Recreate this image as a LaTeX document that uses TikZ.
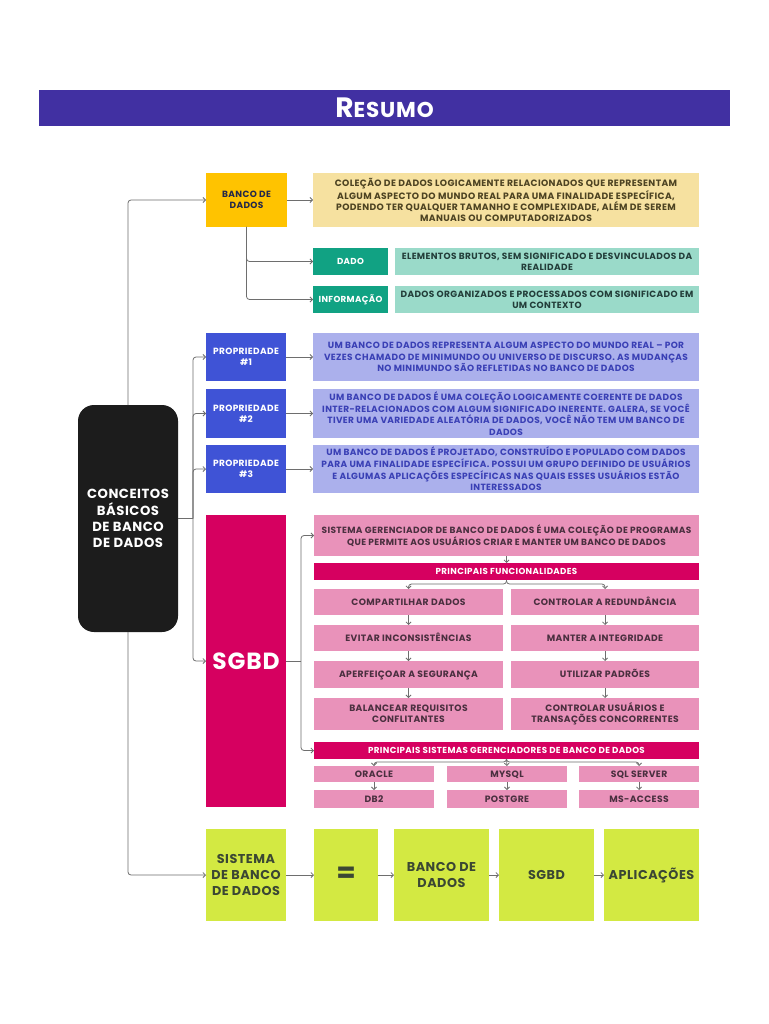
\documentclass[tikz,border=0pt]{standalone}
\usepackage{fontspec}
\setmainfont{Poppins}[LetterSpace=4]
\usetikzlibrary{arrows.meta}
\definecolor{cTitle}{HTML}{4130A2}
\definecolor{cYel}{HTML}{FFC300}
\definecolor{cYelL}{HTML}{F6E1A0}
\definecolor{cTeal}{HTML}{11A283}
\definecolor{cTealL}{HTML}{9ADAC9}
\definecolor{cBlue}{HTML}{3F53D6}
\definecolor{cLav}{HTML}{ABB0EC}
\definecolor{cBlack}{HTML}{1C1C1C}
\definecolor{cMag}{HTML}{D60060}
\definecolor{cPink}{HTML}{E992BA}
\definecolor{cLime}{HTML}{D3E942}
\definecolor{tNavy}{HTML}{24284A}
\definecolor{tYel}{HTML}{4D4322}
\definecolor{tTeal}{HTML}{233E3A}
\definecolor{tLav}{HTML}{3A40B5}
\definecolor{tPink}{HTML}{4A2F3F}
\definecolor{tLime}{HTML}{3B4733}
\definecolor{cLine}{HTML}{6E6E6E}
\begin{document}
\begin{tikzpicture}[x=1pt,y=-1pt,
  every node/.style={inner sep=0pt,outer sep=0pt,align=center,font=\bfseries},
  fdesc/.style={font=\fontsize{9.2}{11}\selectfont\bfseries},
  fteal/.style={font=\fontsize{9}{11}\selectfont\bfseries},
  flav/.style={font=\fontsize{9}{11.7}\selectfont\bfseries},
  fsmall/.style={font=\fontsize{9}{11}\selectfont\bfseries},
  fbar/.style={font=\fontsize{8.7}{10}\selectfont\bfseries},
  one/.style={text height=6.3pt,text depth=0pt},
  yelbox/.style={fill=cYel,text=tNavy,fsmall},
  yeld/.style={fill=cYelL,text=tYel,fdesc},
  tealbox/.style={fill=cTeal,text=white,fbar,one},
  teald/.style={fill=cTealL,text=tTeal,fteal},
  bluebox/.style={fill=cBlue,text=white,fsmall},
  lavd/.style={fill=cLav,text=tLav,flav},
  magbar/.style={fill=cMag,text=white,fbar,one},
  pinkbox/.style={fill=cPink,text=tPink,fdesc},
  limebox/.style={fill=cLime,text=tLime,font=\fontsize{12.8}{16}\selectfont\bfseries},
  arr/.style={draw=cLine,line width=0.8pt,rounded corners=3pt,-{Straight Barb[length=2.5pt,width=5pt]}},
  ln/.style={draw=cLine,line width=0.8pt,rounded corners=3pt}]
\useasboundingbox[fill=white] (0,0) rectangle (768,1024);
% title
\node[fill=cTitle,text=white,minimum width=691,minimum height=36] (title) at (384.5,108)
  {{\fontsize{28}{28}\selectfont R}{\fontsize{21.5}{21.5}\selectfont ESUMO}};
% banco de dados
\node[yelbox,minimum width=81,minimum height=54] (ban) at (246.5,200) {BANCO DE\\DADOS};
\node[yeld,minimum width=386,minimum height=54] (band) at (506,200)
  {COLEÇÃO DE DADOS LOGICAMENTE RELACIONADOS QUE REPRESENTAM\\ALGUM ASPECTO DO MUNDO REAL PARA UMA FINALIDADE ESPECÍFICA,\\PODENDO TER QUALQUER TAMANHO E COMPLEXIDADE, ALÉM DE SEREM\\MANUAIS OU COMPUTADORIZADOS};
\node[tealbox,minimum width=75,minimum height=27] (dado) at (350.5,261.5) {DADO};
\node[teald,minimum width=304,minimum height=27] (dadod) at (547,261.5)
  {ELEMENTOS BRUTOS, SEM SIGNIFICADO E DESVINCULADOS DA\\REALIDADE};
\node[tealbox,minimum width=75,minimum height=27] (info) at (350.5,299.5) {INFORMAÇÃO};
\node[teald,minimum width=304,minimum height=27] (infod) at (547,299.5)
  {DADOS ORGANIZADOS E PROCESSADOS COM SIGNIFICADO EM\\UM CONTEXTO};
% propriedades
\node[bluebox,minimum width=80,minimum height=48] (p1) at (246,357) {PROPRIEDADE\\\#1};
\node[lavd,minimum width=386,minimum height=48] (p1d) at (506,357)
  {UM BANCO DE DADOS REPRESENTA ALGUM ASPECTO DO MUNDO REAL – POR\\VEZES CHAMADO DE MINIMUNDO OU UNIVERSO DE DISCURSO. AS MUDANÇAS\\NO MINIMUNDO SÃO REFLETIDAS NO BANCO DE DADOS};
\node[bluebox,minimum width=80,minimum height=49] (p2) at (246,413.5) {PROPRIEDADE\\\#2};
\node[lavd,minimum width=386,minimum height=49] (p2d) at (506,413.5)
  {UM BANCO DE DADOS É UMA COLEÇÃO LOGICAMENTE COERENTE DE DADOS\\INTER-RELACIONADOS COM ALGUM SIGNIFICADO INERENTE. GALERA, SE VOCÊ\\TIVER UMA VARIEDADE ALEATÓRIA DE DADOS, VOCÊ NÃO TEM UM BANCO DE\\DADOS};
\node[bluebox,minimum width=80,minimum height=48] (p3) at (246,469) {PROPRIEDADE\\\#3};
\node[lavd,minimum width=386,minimum height=48] (p3d) at (506,469)
  {UM BANCO DE DADOS É PROJETADO, CONSTRUÍDO E POPULADO COM DADOS\\PARA UMA FINALIDADE ESPECÍFICA. POSSUI UM GRUPO DEFINIDO DE USUÁRIOS\\E ALGUMAS APLICAÇÕES ESPECÍFICAS NAS QUAIS ESSES USUÁRIOS ESTÃO\\INTERESSADOS};
% central
\node[fill=cBlack,text=white,rounded corners=16pt,minimum width=100,minimum height=227,
  font=\fontsize{13.2}{16.3}\selectfont\bfseries] (conc) at (128,518.5)
  {CONCEITOS\\BÁSICOS\\DE BANCO\\DE DADOS};
% SGBD
\node[fill=cMag,text=white,minimum width=80,minimum height=292,
  font=\fontsize{23.4}{23.4}\selectfont\bfseries] (sgbd) at (246,661) {SGBD};
\node[pinkbox,minimum width=385,minimum height=41,font=\fontsize{9}{11.5}\selectfont\bfseries] (sgd) at (506.5,535.5)
  {SISTEMA GERENCIADOR DE BANCO DE DADOS É UMA COLEÇÃO DE PROGRAMAS\\QUE PERMITE AOS USUÁRIOS CRIAR E MANTER UM BANCO DE DADOS};
\node[magbar,minimum width=385,minimum height=17] (pf) at (506.5,571.5) {PRINCIPAIS FUNCIONALIDADES};
\node[pinkbox,one,minimum width=189,minimum height=26] (l1) at (408.5,602) {COMPARTILHAR DADOS};
\node[pinkbox,one,minimum width=188,minimum height=26] (r1) at (605,602) {CONTROLAR A REDUNDÂNCIA};
\node[pinkbox,one,minimum width=189,minimum height=26] (l2) at (408.5,638) {EVITAR INCONSISTÊNCIAS};
\node[pinkbox,one,minimum width=188,minimum height=26] (r2) at (605,638) {MANTER A INTEGRIDADE};
\node[pinkbox,one,minimum width=189,minimum height=27] (l3) at (408.5,674.5) {APERFEIÇOAR A SEGURANÇA};
\node[pinkbox,one,minimum width=188,minimum height=27] (r3) at (605,674.5) {UTILIZAR PADRÕES};
\node[pinkbox,minimum width=189,minimum height=32] (l4) at (408.5,714) {BALANCEAR REQUISITOS\\CONFLITANTES};
\node[pinkbox,minimum width=188,minimum height=32] (r4) at (605,714) {CONTROLAR USUÁRIOS E\\TRANSAÇÕES CONCORRENTES};
\node[magbar,minimum width=385,minimum height=17] (ps) at (506.5,750.5) {PRINCIPAIS SISTEMAS GERENCIADORES DE BANCO DE DADOS};
\node[pinkbox,one,minimum width=120,minimum height=16] (o) at (374,774) {ORACLE};
\node[pinkbox,one,minimum width=120,minimum height=16] (m) at (507,774) {MYSQL};
\node[pinkbox,one,minimum width=120,minimum height=16] (s) at (639,774) {SQL SERVER};
\node[pinkbox,one,minimum width=120,minimum height=18] (db) at (374,799) {DB2};
\node[pinkbox,one,minimum width=120,minimum height=18] (pg) at (507,799) {POSTGRE};
\node[pinkbox,one,minimum width=120,minimum height=18] (ma) at (639,799) {MS-ACCESS};
% bottom row
\node[limebox,minimum width=80,minimum height=92] (sis) at (246,875) {SISTEMA\\DE BANCO\\DE DADOS};
\node[limebox,minimum width=64,minimum height=92,font=\fontsize{28}{28}\selectfont\bfseries] (eq) at (346,875) {=};
\node[limebox,minimum width=95,minimum height=92] (bd) at (441.5,875) {BANCO DE\\DADOS};
\node[limebox,minimum width=95,minimum height=92,text height=9pt,text depth=0pt] (sg) at (546.5,875) {SGBD};
\node[limebox,minimum width=95,minimum height=92,text height=9pt,text depth=0pt] (ap) at (651.5,875) {APLICAÇÕES};
% connectors
\draw[arr] (conc.north) |- (ban.west);
\draw[arr] (conc.south) |- (sis.west);
\coordinate (b1) at ([xshift=15pt]conc.east);
\draw[ln] (conc.east) -- (b1);
\draw[arr] (b1) |- (p1.west);
\draw[arr] (b1) |- (p2.west);
\draw[arr] (b1) |- (p3.west);
\draw[arr] (b1) |- (sgbd.west);
\draw[arr] (ban.east) -- (band.west);
\draw[arr] (ban.south) |- (dado.west);
\draw[arr] (ban.south) |- (info.west);
\draw[arr] (p1.east) -- (p1d.west);
\draw[arr] (p2.east) -- (p2d.west);
\draw[arr] (p3.east) -- (p3d.west);
\coordinate (b2) at ([xshift=15pt]sgbd.east);
\draw[ln] (sgbd.east) -- (b2);
\draw[arr] (b2) |- (sgd.west);
\draw[arr] (b2) |- (ps.west);
\draw[arr] (sgd.south) -- (pf.north);
\draw[arr] (pf.south) -- ++(0,4) -| (l1.north);
\draw[arr] (pf.south) -- ++(0,4) -| (r1.north);
\draw[arr] (l1) -- (l2);
\draw[arr] (l2) -- (l3);
\draw[arr] (l3) -- (l4);
\draw[arr] (r1) -- (r2);
\draw[arr] (r2) -- (r3);
\draw[arr] (r3) -- (r4);
\draw[arr] (ps.south) -- ++(0,3) -| (o.north);
\draw[arr] (ps.south) -- (m.north);
\draw[arr] (ps.south) -- ++(0,3) -| (s.north);
\draw[arr] (o) -- (db);
\draw[arr] (m) -- (pg);
\draw[arr] (s) -- (ma);
\draw[arr] (sis) -- (eq);
\draw[arr] (eq) -- (bd);
\draw[arr] (bd) -- (sg);
\draw[arr] (sg) -- (ap);
\end{tikzpicture}
\end{document}
